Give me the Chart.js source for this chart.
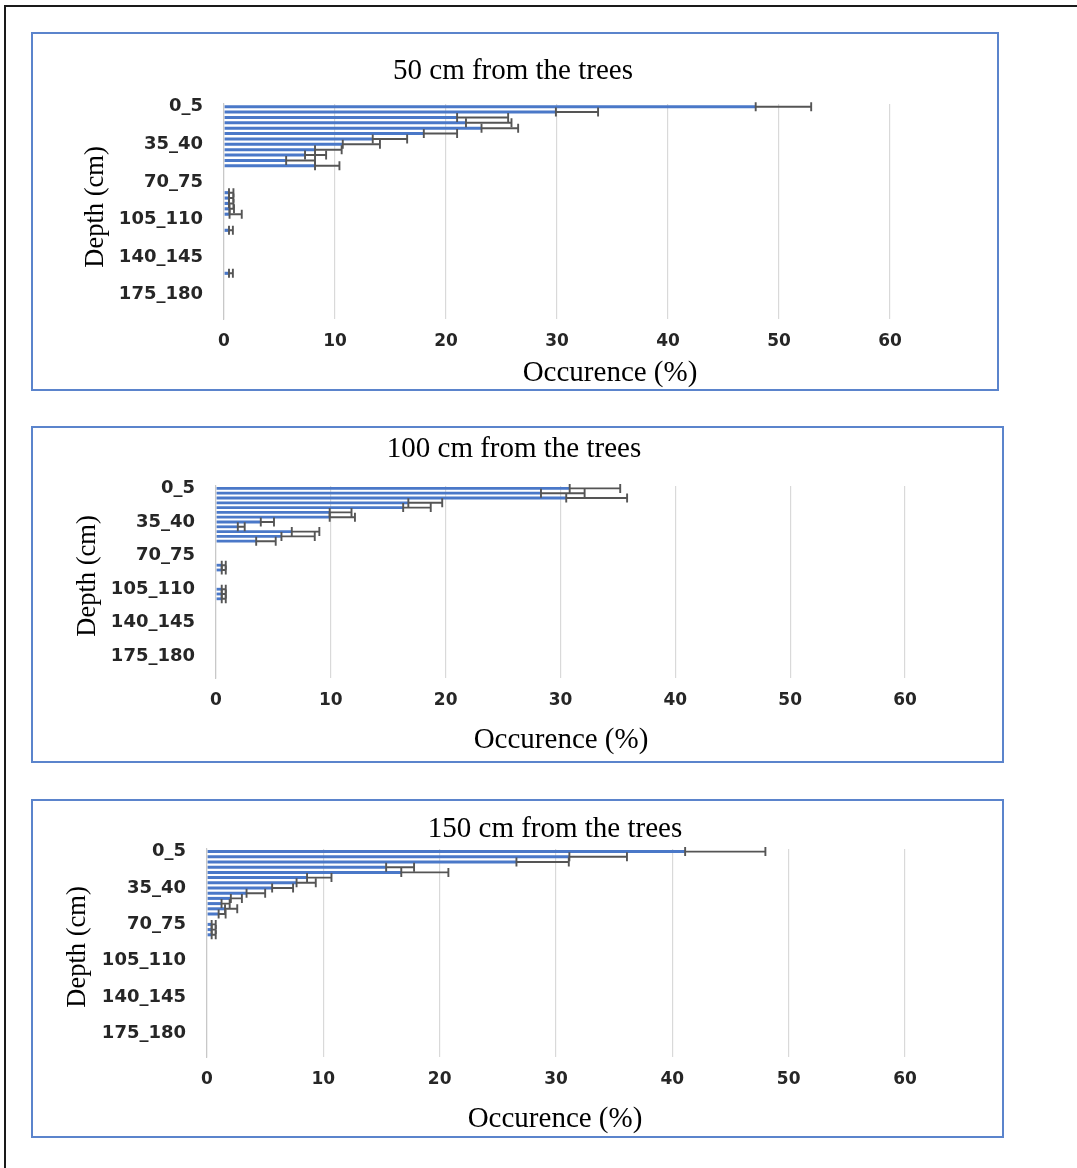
<!DOCTYPE html>
<html>
<head>
<meta charset="utf-8">
<script src="https://cdn.jsdelivr.net/npm/chart.js@4.4.1/dist/chart.umd.min.js"></script>
<style>
  html, body { margin: 0; padding: 0; background: #fff; }
  body { width: 1077px; height: 1168px; position: relative; overflow: hidden; }
  .frame { position: absolute; left: 4px; top: 5px; width: 1200px; height: 1300px;
           border-left: 2px solid #1a1a1a; border-top: 2px solid #1a1a1a; }
  .panel { position: absolute; box-sizing: border-box; border: 2px solid #5b84cc; }
  canvas { position: absolute; }
</style>
</head>
<body>
<div class="frame"></div>

<script>
// Depth classes (cm), top of the profile first
const depths = [
  '0_5','5_10','10_15','15_20','20_25','25_30','30_35','35_40','40_45','45_50',
  '50_55','55_60','60_65','65_70','70_75','75_80','80_85','85_90','90_95','95_100',
  '100_105','105_110','110_115','115_120','120_125','125_130','130_135','135_140','140_145','145_150',
  '150_155','155_160','160_165','165_170','170_175','175_180','180_185','185_190','190_195','195_200'
];

// Root occurrence (%) and error bar length, 50 cm from the trees
const occ50 = [47.9, 29.9, 21.0, 21.8, 23.2, 18.0, 13.4, 10.7, 8.2, 7.3,
               5.6, 8.2, 0, 0, 0, 0, 0.45, 0.45, 0.45, 0.5,
               0.5, 0, 0, 0.45, 0, 0, 0, 0, 0, 0,
               0, 0.45, 0, 0, 0, 0, 0, 0, 0, 0];
const err50 = [5.0, 3.8, 4.6, 4.1, 3.3, 3.0, 3.1, 3.35, 2.4, 1.9,
               2.6, 2.2, 0, 0, 0, 0, 0.4, 0.4, 0.4, 0.4,
               1.1, 0, 0, 0.35, 0, 0, 0, 0, 0, 0,
               0, 0.35, 0, 0, 0, 0, 0, 0, 0, 0];

// 100 cm from the trees
const occ100 = [30.8, 28.3, 30.5, 16.75, 16.3, 9.9, 9.9, 3.9, 1.9, 6.6,
                5.7, 3.5, 0, 0, 0, 0, 0.5, 0.5, 0, 0,
                0, 0.5, 0.5, 0.5, 0, 0, 0, 0, 0, 0,
                0, 0, 0, 0, 0, 0, 0, 0, 0, 0];
const err100 = [4.4, 3.8, 5.3, 2.95, 2.4, 1.9, 2.2, 1.15, 0.6, 2.4,
                2.9, 1.7, 0, 0, 0, 0, 0.35, 0.35, 0, 0,
                0, 0.35, 0.35, 0.35, 0, 0, 0, 0, 0, 0,
                0, 0, 0, 0, 0, 0, 0, 0, 0, 0];

// 150 cm from the trees
const occ150 = [41.1, 31.15, 26.6, 15.4, 16.7, 8.6, 7.7, 5.6, 3.4, 2.05,
                1.25, 1.55, 1.0, 0, 0.4, 0.4, 0.4, 0, 0, 0,
                0, 0, 0, 0, 0, 0, 0, 0, 0, 0,
                0, 0, 0, 0, 0, 0, 0, 0, 0, 0];
const err150 = [6.9, 4.95, 4.5, 2.4, 4.05, 2.1, 1.65, 1.8, 1.6, 0.95,
                0.7, 1.05, 0.6, 0, 0.35, 0.35, 0.35, 0, 0, 0,
                0, 0, 0, 0, 0, 0, 0, 0, 0, 0,
                0, 0, 0, 0, 0, 0, 0, 0, 0, 0];

const xTicks = [0, 10, 20, 30, 40, 50, 60];
const titles = ['50 cm from the trees', '100 cm from the trees', '150 cm from the trees'];
const xTitle = 'Occurence (%)';
const yTitle = 'Depth (cm)';

// Layout of each framed panel (page pixels): box, plot area, caption centres
const panels = [
  { id: 'c1', occ: occ50, err: err50, title: titles[0],
    box: { x: 31, y: 32, w: 968, h: 359 },
    plot: { l: 224, t: 104, r: 890, b: 319 },
    titleAt: [513, 71], xTitleAt: [610, 373], yTitleAt: [96, 207] },
  { id: 'c2', occ: occ100, err: err100, title: titles[1],
    box: { x: 31, y: 426, w: 973, h: 337 },
    plot: { l: 216, t: 486, r: 905, b: 678 },
    titleAt: [514, 449], xTitleAt: [561, 740], yTitleAt: [88, 576] },
  { id: 'c3', occ: occ150, err: err150, title: titles[2],
    box: { x: 31, y: 799, w: 973, h: 339 },
    plot: { l: 207, t: 849, r: 905, b: 1057 },
    titleAt: [555, 829], xTitleAt: [555, 1119], yTitleAt: [78, 947] }
];

// Error bars: a line from the bar end to bar end + length, capped at both ends
const errorBars = {
  id: 'errorBars',
  afterDatasetsDraw(chart, args, opts) {
    const { ctx, scales: { x, y } } = chart;
    const vals = chart.data.datasets[0].data;
    const errs = opts.errors;
    ctx.save();
    ctx.strokeStyle = '#555555';
    ctx.lineWidth = 1.9;
    const cap = 4.5;
    vals.forEach((v, i) => {
      const e = errs[i];
      if (!e) return;
      const py = y.getPixelForValue(i);
      const x0 = x.getPixelForValue(v);
      const x1 = x.getPixelForValue(v + e);
      ctx.beginPath();
      ctx.moveTo(x0, py); ctx.lineTo(x1, py);
      ctx.moveTo(x0, py - cap); ctx.lineTo(x0, py + cap);
      ctx.moveTo(x1, py - cap); ctx.lineTo(x1, py + cap);
      ctx.stroke();
    });
    ctx.restore();
  }
};

// Chart title and axis titles at fixed spots inside the panel
const captions = {
  id: 'captions',
  afterDraw(chart, args, o) {
    const ctx = chart.ctx;
    ctx.save();
    ctx.fillStyle = '#000';
    ctx.textAlign = 'center';
    ctx.textBaseline = 'middle';
    ctx.font = '29px "Liberation Serif"';
    ctx.fillText(o.title, o.titleAt[0], o.titleAt[1]);
    ctx.font = '29px "Liberation Serif"';
    ctx.fillText(o.xTitle, o.xTitleAt[0], o.xTitleAt[1]);
    ctx.translate(o.yTitleAt[0], o.yTitleAt[1]);
    ctx.rotate(-Math.PI / 2);
    ctx.font = '26.5px "Liberation Serif"';
    ctx.fillText(o.yTitle, 0, 0);
    ctx.restore();
  }
};

panels.forEach(p => {
  const box = document.createElement('div');
  box.className = 'panel';
  Object.assign(box.style, { left: p.box.x + 'px', top: p.box.y + 'px',
                             width: p.box.w + 'px', height: p.box.h + 'px' });
  document.body.appendChild(box);

  const cv = document.createElement('canvas');
  cv.id = p.id;
  cv.width = p.box.w; cv.height = p.box.h;
  Object.assign(cv.style, { left: p.box.x + 'px', top: p.box.y + 'px',
                            width: p.box.w + 'px', height: p.box.h + 'px' });
  document.body.appendChild(cv);

  const leftW = p.plot.l - p.box.x;
  const bottomH = p.box.y + p.box.h - p.plot.b;
  const rel = pt => [pt[0] - p.box.x, pt[1] - p.box.y];

  new Chart(cv, {
    type: 'bar',
    data: {
      labels: depths,
      datasets: [{
        data: p.occ,
        backgroundColor: '#4a78c8',
        borderWidth: 0,
        barPercentage: 0.58,
        categoryPercentage: 1.0
      }]
    },
    options: {
      indexAxis: 'y',
      responsive: false,
      animation: false,
      devicePixelRatio: 1,
      layout: { padding: { left: 0, bottom: 0,
                           top: p.plot.t - p.box.y,
                           right: p.box.x + p.box.w - p.plot.r } },
      plugins: {
        legend: { display: false },
        tooltip: { enabled: false },
        title: { display: false },
        errorBars: { errors: p.err },
        captions: { title: p.title, xTitle: xTitle, yTitle: yTitle,
                    titleAt: rel(p.titleAt), xTitleAt: rel(p.xTitleAt), yTitleAt: rel(p.yTitleAt) }
      },
      scales: {
        x: {
          min: 0, max: 60,
          afterBuildTicks(s) { s.ticks = xTicks.map(v => ({ value: v })); },
          afterFit(s) { s.height = bottomH; },
          grid: { color: '#d9d9d9', lineWidth: 1.2, drawTicks: false },
          border: { display: false },
          ticks: { padding: 12, color: '#262626',
                   font: { family: '"DejaVu Sans"', size: 17, weight: 'bold' } }
        },
        y: {
          afterFit(s) { s.width = leftW; },
          grid: { display: false, drawTicks: false },
          border: { display: true, color: '#c8c8c8', width: 1.2 },
          ticks: { autoSkip: false, padding: 21, color: '#262626',
                   font: { family: '"DejaVu Sans"', size: 18, weight: 'bold' },
                   callback(v, i) { return i % 7 === 0 ? depths[i] : ''; } }
        }
      }
    },
    plugins: [errorBars, captions]
  });
});
</script>
</body>
</html>
